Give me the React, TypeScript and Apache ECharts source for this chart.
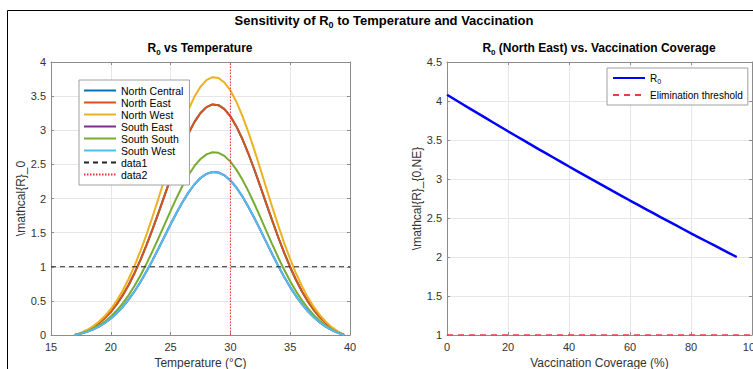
import React, { useEffect, useRef } from "react";
import * as echarts from "echarts";

const temperatures = [17, 17.5, 18, 18.5, 19, 19.5, 20, 20.5, 21, 21.5, 22, 22.5, 23, 23.5, 24, 24.5, 25, 25.5, 26, 26.5, 27, 27.5, 28, 28.5, 29, 29.5, 30, 30.5, 31, 31.5, 32, 32.5, 33, 33.5, 34, 34.5, 35, 35.5, 36, 36.5, 37, 37.5, 38, 38.5, 39, 39.5];
const northEast = [0, 0.028, 0.065, 0.113, 0.173, 0.248, 0.34, 0.452, 0.584, 0.737, 0.913, 1.109, 1.324, 1.555, 1.797, 2.046, 2.294, 2.534, 2.757, 2.956, 3.123, 3.253, 3.339, 3.378, 3.368, 3.309, 3.204, 3.056, 2.872, 2.659, 2.425, 2.178, 1.925, 1.675, 1.432, 1.204, 0.993, 0.802, 0.634, 0.486, 0.361, 0.256, 0.17, 0.099, 0.044, 0];
const northWest = [0, 0.032, 0.073, 0.126, 0.194, 0.278, 0.381, 0.506, 0.653, 0.824, 1.021, 1.24, 1.48, 1.739, 2.01, 2.288, 2.565, 2.833, 3.083, 3.306, 3.493, 3.638, 3.734, 3.778, 3.766, 3.7, 3.583, 3.418, 3.212, 2.974, 2.712, 2.436, 2.153, 1.873, 1.602, 1.346, 1.111, 0.897, 0.709, 0.544, 0.404, 0.287, 0.19, 0.111, 0.049, 0];
const southSouth = [0, 0.023, 0.052, 0.089, 0.137, 0.197, 0.27, 0.359, 0.463, 0.585, 0.724, 0.879, 1.049, 1.233, 1.425, 1.622, 1.819, 2.009, 2.186, 2.344, 2.477, 2.579, 2.647, 2.678, 2.67, 2.623, 2.54, 2.423, 2.277, 2.109, 1.923, 1.727, 1.527, 1.328, 1.136, 0.955, 0.787, 0.636, 0.503, 0.386, 0.286, 0.203, 0.135, 0.079, 0.035, 0];
const southWest = [0, 0.02, 0.046, 0.08, 0.122, 0.176, 0.241, 0.32, 0.413, 0.521, 0.645, 0.784, 0.936, 1.099, 1.271, 1.447, 1.622, 1.792, 1.95, 2.09, 2.209, 2.3, 2.361, 2.389, 2.381, 2.34, 2.265, 2.161, 2.031, 1.88, 1.715, 1.54, 1.361, 1.184, 1.013, 0.851, 0.702, 0.567, 0.448, 0.344, 0.255, 0.181, 0.12, 0.07, 0.031, 0];
// hidden underneath other curves in the reference
const northCentral = northEast;
const southEast = southWest;

const data1X = [15, 40];
const data1Y = [1, 1];
const data2X = [30, 30];
const data2Y = [0, 4];

const coverage = [0, 5, 10, 15, 20, 25, 30, 35, 40, 45, 50, 55, 60, 65, 70, 75, 80, 85, 90, 95];
const r0NE = [4.08, 3.962, 3.844, 3.728, 3.612, 3.498, 3.384, 3.272, 3.16, 3.05, 2.94, 2.832, 2.724, 2.618, 2.512, 2.408, 2.304, 2.202, 2.1, 2.0];
const thresholdX = [0, 100];
const thresholdY = [1, 1];

const regionNames = ["North Central", "North East", "North West", "South East", "South South", "South West"];
const regionData = [northCentral, northEast, northWest, southEast, southSouth, southWest];
const regionColors = ["#0072BD", "#D95319", "#EDB120", "#7E2F8E", "#77AC30", "#4DBEEE"];

const FONT = "Liberation Sans, Arial, Helvetica, sans-serif";
const AXIS_COLOR = "#8c8c8c";
const GRID_COLOR = "#e6e6e6";
const LABEL_COLOR = "#333333";

const pairs = (xs: number[], ys: number[]) => xs.map((x, i) => [x, ys[i]]);

function mainAxis(extra: any) {
  return {
    type: "value",
    axisLine: { show: true, onZero: false, lineStyle: { color: AXIS_COLOR, width: 1 } },
    axisTick: { show: true, inside: true, length: 3, lineStyle: { color: AXIS_COLOR } },
    splitLine: { show: true, lineStyle: { color: GRID_COLOR, width: 1 } },
    nameTextStyle: { color: LABEL_COLOR, fontSize: 12, fontFamily: FONT },
    ...extra,
  };
}
function boxAxis(extra: any) {
  return {
    type: "value",
    axisLine: { show: true, onZero: false, lineStyle: { color: AXIS_COLOR, width: 1 } },
    axisTick: { show: true, inside: true, length: 3, lineStyle: { color: AXIS_COLOR } },
    splitLine: { show: false },
    axisLabel: { show: false },
    ...extra,
  };
}
const tickLabel = (margin: number) => ({
  color: LABEL_COLOR, fontSize: 11, fontFamily: FONT, margin, showMinLabel: true, showMaxLabel: true, hideOverlap: false,
});

const titleRich = (size: number) => ({
  t: { fontSize: size, fontWeight: "bold", color: "#000", fontFamily: FONT, lineHeight: size + 5 },
  s: { fontSize: Math.round(size * 0.7), fontWeight: "bold", color: "#000", fontFamily: FONT, lineHeight: size + 5, verticalAlign: "bottom" },
});

export default function App() {
  const ref = useRef<HTMLDivElement>(null);
  useEffect(() => {
    if (!ref.current) return;
    const chart = echarts.init(ref.current, undefined, { renderer: "svg" });
    const leftSeries: any[] = regionNames.map((name, i) => ({
      name,
      type: "line",
      xAxisIndex: 0,
      yAxisIndex: 0,
      data: pairs(temperatures, regionData[i]),
      showSymbol: false,
      symbol: "none",
      lineStyle: { color: regionColors[i], width: 2 },
      itemStyle: { color: regionColors[i] },
    }));
    leftSeries.push({
      name: "data1",
      type: "line",
      xAxisIndex: 0,
      yAxisIndex: 0,
      data: pairs(data1X, data1Y),
      symbol: "none",
      lineStyle: { color: "#222", width: 1, type: [5, 4] },
      itemStyle: { color: "#222" },
    });
    leftSeries.push({
      name: "data2",
      type: "line",
      xAxisIndex: 0,
      yAxisIndex: 0,
      data: pairs(data2X, data2Y),
      symbol: "none",
      lineStyle: { color: "#ff2a2a", width: 1, type: [1.5, 1.5] },
      itemStyle: { color: "#ff2a2a" },
    });
    const rightSeries: any[] = [
      {
        name: "R0",
        type: "line",
        xAxisIndex: 2,
        yAxisIndex: 2,
        data: pairs(coverage, r0NE),
        symbol: "none",
        smooth: 0.3,
        lineStyle: { color: "#0000ff", width: 2.5 },
        itemStyle: { color: "#0000ff" },
      },
      {
        name: "Elimination threshold",
        type: "line",
        xAxisIndex: 2,
        yAxisIndex: 2,
        data: pairs(thresholdX, thresholdY),
        symbol: "none",
        lineStyle: { color: "#ee3b3b", width: 1.5, type: [6, 5] },
        itemStyle: { color: "#ee3b3b" },
        z: 5,
      },
    ];

    chart.setOption({
      animation: false,
      backgroundColor: "#ffffff",
      textStyle: { fontFamily: FONT },
      title: [
        {
          text: "{t|Sensitivity of R}{s|0}{t| to Temperature and Vaccination}",
          left: 384,
          top: 11,
          textAlign: "center",
          padding: 0,
          textStyle: { rich: titleRich(13) },
        },
        {
          text: "{t|R}{s|0}{t| vs Temperature}",
          left: 200,
          top: 39,
          textAlign: "center",
          padding: 0,
          textStyle: { rich: titleRich(12) },
        },
        {
          text: "{t|R}{s|0}{t| (North East) vs. Vaccination Coverage}",
          left: 599,
          top: 39,
          textAlign: "center",
          padding: 0,
          textStyle: { rich: titleRich(12) },
        },
      ],
      graphic: [
        {
          type: "rect",
          shape: { x: 7.5, y: 10.5, width: 800, height: 400 },
          style: { fill: "none", stroke: "#000", lineWidth: 1 },
          silent: true,
        },
      ],
      grid: [
        { left: 51, top: 62, width: 299, height: 273, containLabel: false, outerBoundsMode: "none" },
        { left: 447, top: 62, width: 305, height: 273, containLabel: false, outerBoundsMode: "none" },
      ],
      xAxis: [
        mainAxis({
          gridIndex: 0, position: "bottom", min: 15, max: 40, interval: 5,
          name: "Temperature (°C)", nameLocation: "middle", nameGap: 15,
          axisLabel: tickLabel(6),
        }),
        boxAxis({ gridIndex: 0, position: "top", min: 15, max: 40, interval: 5 }),
        mainAxis({
          gridIndex: 1, position: "bottom", min: 0, max: 100, interval: 20,
          name: "Vaccination Coverage (%)", nameLocation: "middle", nameGap: 15,
          axisLabel: tickLabel(6),
        }),
        boxAxis({ gridIndex: 1, position: "top", min: 0, max: 100, interval: 20 }),
      ],
      yAxis: [
        mainAxis({
          gridIndex: 0, position: "left", min: 0, max: 4, interval: 0.5,
          name: "\\mathcal{R}_0", nameLocation: "middle", nameGap: 23, nameRotate: 90,
          axisLabel: tickLabel(5),
        }),
        boxAxis({ gridIndex: 0, position: "right", min: 0, max: 4, interval: 0.5 }),
        mainAxis({
          gridIndex: 1, position: "left", min: 1, max: 4.5, interval: 0.5,
          name: "\\mathcal{R}_{0,NE}", nameLocation: "middle", nameGap: 20, nameRotate: 90,
          axisLabel: tickLabel(5),
        }),
        boxAxis({ gridIndex: 1, position: "right", min: 1, max: 4.5, interval: 0.5 }),
      ],
      legend: [
        {
          data: [...regionNames, "data1", "data2"],
          orient: "vertical",
          left: 79,
          top: 80,
          itemWidth: 32,
          itemHeight: 10,
          itemGap: 1,
          padding: [5, 6, 5, 4],
          backgroundColor: "#ffffff",
          borderColor: "#a0a0a0",
          borderWidth: 1,
          borderRadius: 0,
          itemStyle: { opacity: 0 },
          textStyle: { fontSize: 10.5, lineHeight: 10.6, fontFamily: FONT, color: "#000" },
          selectedMode: false,
        },
        {
          data: ["R0", "Elimination threshold"],
          orient: "vertical",
          left: 607,
          top: 68,
          itemWidth: 32,
          itemHeight: 10,
          itemGap: 5,
          padding: [5, 5, 5, 5],
          backgroundColor: "#ffffff",
          borderColor: "#a0a0a0",
          borderWidth: 1,
          borderRadius: 0,
          itemStyle: { opacity: 0 },
          formatter: (name: string) => (name === "R0" ? "{r|R}{s|0}" : name),
          textStyle: {
            fontSize: 10, fontFamily: FONT, color: "#000",
            rich: {
              r: { fontSize: 10, fontFamily: FONT, color: "#000", lineHeight: 14 },
              s: { fontSize: 7, fontFamily: FONT, color: "#000", lineHeight: 14, verticalAlign: "bottom" },
            },
          },
          selectedMode: false,
        },
      ],
      series: [...leftSeries, ...rightSeries],
    });
    return () => chart.dispose();
  }, []);
  return <div ref={ref} style={{ position: "fixed", left: 0, top: 0, width: 753, height: 369 }} />;
}
